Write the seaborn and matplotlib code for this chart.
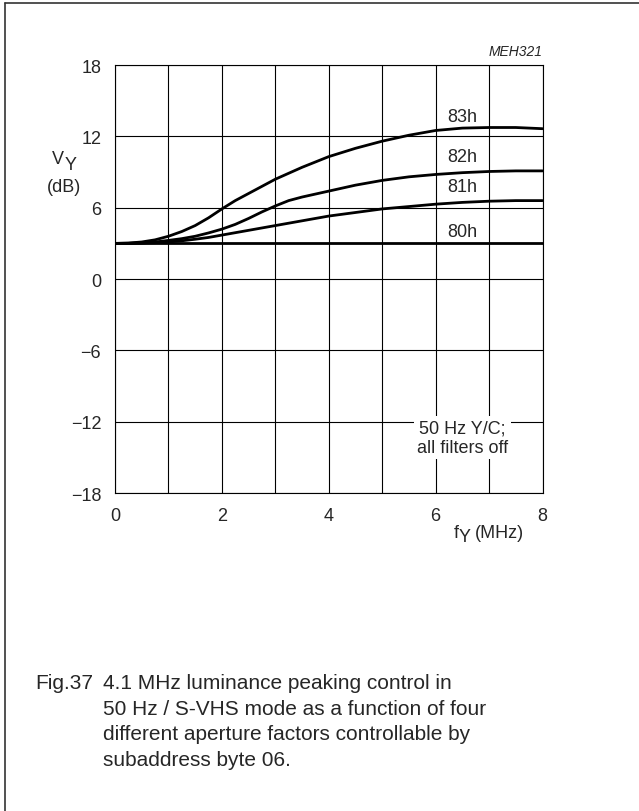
import numpy as np
import pandas as pd
import seaborn as sns
import matplotlib.pyplot as plt
from matplotlib.lines import Line2D

sns.set_style("white")
plt.rcParams['font.family'] = ['Liberation Sans', 'DejaVu Sans']

# data (MHz, dB)
freq = [0, 0.25, 0.5, 0.75, 1, 1.25, 1.5, 1.75, 2, 2.25, 2.5, 2.75, 3, 3.25, 3.5, 3.75, 4,
        4.5, 5, 5.5, 6, 6.5, 7, 7.5, 8]
v_83h = [3.0, 3.03, 3.12, 3.3, 3.6, 4.0, 4.5, 5.15, 5.9, 6.6, 7.2, 7.8, 8.4, 8.9, 9.4, 9.85, 10.3,
         11.0, 11.6, 12.1, 12.5, 12.7, 12.75, 12.75, 12.65]
v_82h = [3.0, 3.01, 3.04, 3.12, 3.25, 3.4, 3.6, 3.88, 4.2, 4.6, 5.1, 5.65, 6.15, 6.6, 6.9, 7.15, 7.4,
         7.9, 8.3, 8.6, 8.8, 8.95, 9.05, 9.1, 9.1]
v_81h = [3.0, 3.0, 3.03, 3.06, 3.12, 3.22, 3.35, 3.5, 3.7, 3.9, 4.1, 4.3, 4.5, 4.7, 4.9, 5.1, 5.3,
         5.6, 5.9, 6.1, 6.3, 6.45, 6.55, 6.6, 6.6]
v_80h = [3.0] * len(freq)
curve_names = ["83h", "82h", "81h", "80h"]
label_y = [13.7, 10.3, 7.8, 4.0]
x_ticks = [0, 2, 4, 6, 8]
y_ticks = [18, 12, 6, 0, -6, -12, -18]
y_tick_labels = ["18", "12", "6", "0", "\u22126", "\u221212", "\u221218"]

df = pd.DataFrame({
    "f": freq * 4,
    "v": v_83h + v_82h + v_81h + v_80h,
    "curve": np.repeat(curve_names, len(freq)),
})

W, H = 639, 812
fig = plt.figure(figsize=(W / 100, H / 100), dpi=100)
ax = fig.add_axes([0.180, 0.3916, 0.669, 0.527])


def px(x, y):
    return x / W, 1 - y / H


sns.lineplot(data=df, x="f", y="v", hue="curve", palette=["k"] * 4,
             linewidth=2.0, legend=False, ax=ax, zorder=3)

ax.set_xlim(0, 8)
ax.set_ylim(-18, 18)
ax.set_xticks(np.arange(0, 9, 1))
ax.set_xticklabels([str(t) if t in x_ticks else "" for t in range(9)])
ax.set_yticks(y_ticks)
ax.set_yticklabels(y_tick_labels)
ax.tick_params(length=0, labelsize=13, pad=10)
ax.grid(True, color="k", linewidth=0.8)
for s in ax.spines.values():
    s.set_color("k")
    s.set_linewidth(0.8)
ax.set_xlabel("")
ax.set_ylabel("")

for name, yl in zip(curve_names, label_y):
    ax.text(6.5, yl, name, fontsize=13, ha="center", va="center")

ax.text(6.5, -13.35, "50 Hz Y/C;\nall filters off", fontsize=13, ha="center",
        va="center", linespacing=1.25, zorder=4,
        bbox=dict(facecolor="white", edgecolor="none", pad=2))

ax.text(8, 18.6, "MEH321", fontsize=10, ha="right", va="bottom", style="italic")

# axis labels with large offset subscripts
fig.text(*px(58, 160), "V", fontsize=13, ha="center", va="center")
fig.text(*px(71, 165), "Y", fontsize=13, ha="center", va="center")
fig.text(*px(64, 188), "(dB)", fontsize=13, ha="center", va="center")
fig.text(*px(456, 533), "f", fontsize=13, ha="center", va="center")
fig.text(*px(465, 538), "Y", fontsize=13, ha="center", va="center")
fig.text(*px(475, 533), "(MHz)", fontsize=13, ha="left", va="center")

# caption
fig.text(*px(35, 684), "Fig.37", fontsize=15, ha="left", va="center")
caption = ["4.1 MHz luminance peaking control in",
           "50 Hz / S-VHS mode as a function of four",
           "different aperture factors controllable by",
           "subaddress byte 06."]
for i, line in enumerate(caption):
    fig.text(*px(103, 684 + i * 25.5), line, fontsize=15, ha="left", va="center")

# outer frame (left and top edges)
fig.add_artist(Line2D([5 / W, 5 / W], [0, 1 - 4 / H], color="#333333", linewidth=1.2))
fig.add_artist(Line2D([5 / W, 1], [1 - 4 / H, 1 - 4 / H], color="#333333", linewidth=1.2))

fig.savefig("out.png", dpi=100)
plt.close()
